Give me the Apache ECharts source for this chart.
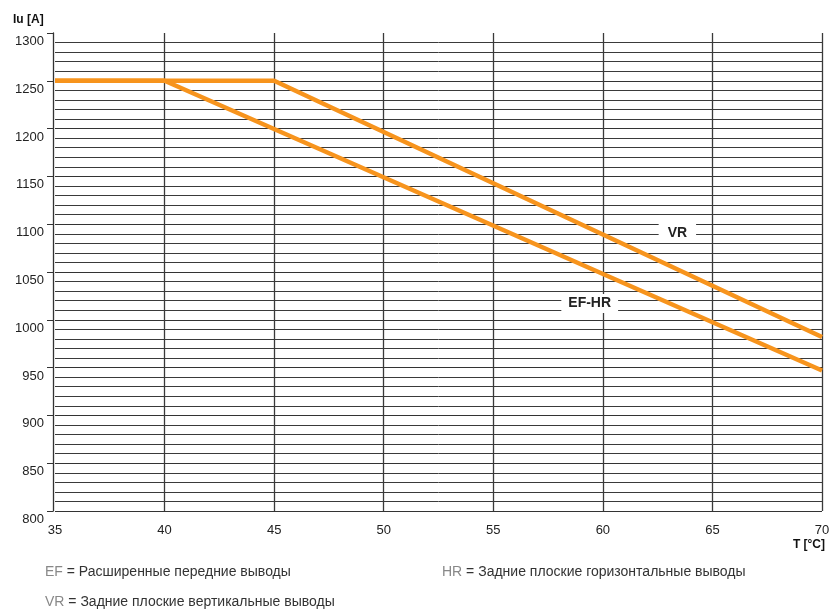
<!DOCTYPE html>
<html>
<head>
<meta charset="utf-8">
<script src="https://cdn.jsdelivr.net/npm/echarts@6/dist/echarts.min.js"></script>
<style>html,body{margin:0;padding:0;background:#fff}#c{width:834px;height:614px}</style>
</head>
<body>
<div id="c"></div>
<script>
const seriesVR = [[35, 1250], [45, 1250], [70, 982]];
const seriesEFHR = [[35, 1250], [40, 1250], [70, 947]];
const labelVR = [63.4, 1091];
const labelEFHR = [59.4, 1017];
const xTicks = [35, 40, 45, 50, 55, 60, 65, 70];
const yTicks = [800, 850, 900, 950, 1000, 1050, 1100, 1150, 1200, 1250, 1300];
const notes = [
  ['EF', 'Расширенные передние выводы'],
  ['HR', 'Задние плоские горизонтальные выводы'],
  ['VR', 'Задние плоские вертикальные выводы']
];

const FONT = '"Liberation Sans", Arial, Helvetica, sans-serif';
const ORANGE = '#F7941D';
const chart = echarts.init(document.getElementById('c'), null, {renderer: 'canvas'});

const ySplitColors = yTicks.map((v, i) => i === yTicks.length - 1 ? 'rgba(0,0,0,0)' : '#333');
const xSplitColors = xTicks.map((v, i) => i === 0 ? 'rgba(0,0,0,0)' : '#3a3a3a');

function noteRich(n) {
  return '{a|' + n[0] + '}{b| = ' + n[1] + '}';
}
const rich = {
  a: {fontFamily: FONT, fontSize: 14, fill: '#888'},
  b: {fontFamily: FONT, fontSize: 14, fill: '#333'}
};

const option = {
  backgroundColor: '#fff',
  animation: false,
  grid: {left: 55, right: 12, top: 33, bottom: 103, containLabel: false},
  xAxis: {
    type: 'value',
    min: xTicks[0], max: xTicks[xTicks.length - 1], interval: 5,
    axisLine: {show: false},
    axisTick: {show: false},
    axisLabel: {fontFamily: FONT, fontSize: 13, color: '#222', margin: 13, formatter: v => String(v)},
    splitLine: {show: true, lineStyle: {color: xSplitColors, width: 1.3}}
  },
  yAxis: {
    type: 'value',
    min: yTicks[0], max: yTicks[yTicks.length - 1], interval: 50,
    offset: 2,
    axisLine: {show: true, lineStyle: {color: '#333', width: 1.3}},
    axisTick: {show: true, length: 6, lineStyle: {color: '#333', width: 1}},
    axisLabel: {fontFamily: FONT, fontSize: 13, color: '#222', margin: 9, verticalAlign: 'top', padding: [2, 0, 0, 0], formatter: v => String(v)},
    splitLine: {show: true, lineStyle: {color: ySplitColors, width: 1.2}},
    minorTick: {show: false, splitNumber: 5},
    minorSplitLine: {show: true, lineStyle: {color: '#3a3a3a', width: 1}}
  },
  series: [
    {
      name: 'EF-HR', type: 'line', data: seriesEFHR, symbol: 'none',
      lineStyle: {color: ORANGE, width: 4.5}, z: 3,
      markPoint: {
        symbol: 'rect', symbolSize: 0, silent: true,
        data: [{coord: labelEFHR}],
        label: {show: true, position: 'inside', formatter: 'EF-HR', fontFamily: FONT, fontSize: 14, fontWeight: 'bold', color: '#222', backgroundColor: '#fff', padding: [3, 7, 2, 7]}
      }
    },
    {
      name: 'VR', type: 'line', data: seriesVR, symbol: 'none',
      lineStyle: {color: ORANGE, width: 4.5}, z: 3,
      markPoint: {
        symbol: 'rect', symbolSize: 0, silent: true,
        data: [{coord: labelVR}],
        label: {show: true, position: 'inside', formatter: 'VR', fontFamily: FONT, fontSize: 14, fontWeight: 'bold', color: '#222', backgroundColor: '#fff', padding: [3, 9, 2, 9]}
      }
    }
  ],
  graphic: [
    {type: 'text', left: 13, top: 14, style: {text: 'Iu [A]', fontFamily: FONT, fontSize: 12, fontWeight: 'bold', fill: '#111'}},
    {type: 'text', right: 9, top: 539, style: {text: 'T [°C]', fontFamily: FONT, fontSize: 12, fontWeight: 'bold', fill: '#111'}},
    {type: 'text', left: 45, top: 565, style: {text: noteRich(notes[0]), rich: rich}},
    {type: 'text', left: 442, top: 565, style: {text: noteRich(notes[1]), rich: rich}},
    {type: 'text', left: 45, top: 595, style: {text: noteRich(notes[2]), rich: rich}}
  ]
};
chart.setOption(option);
</script>
</body>
</html>
